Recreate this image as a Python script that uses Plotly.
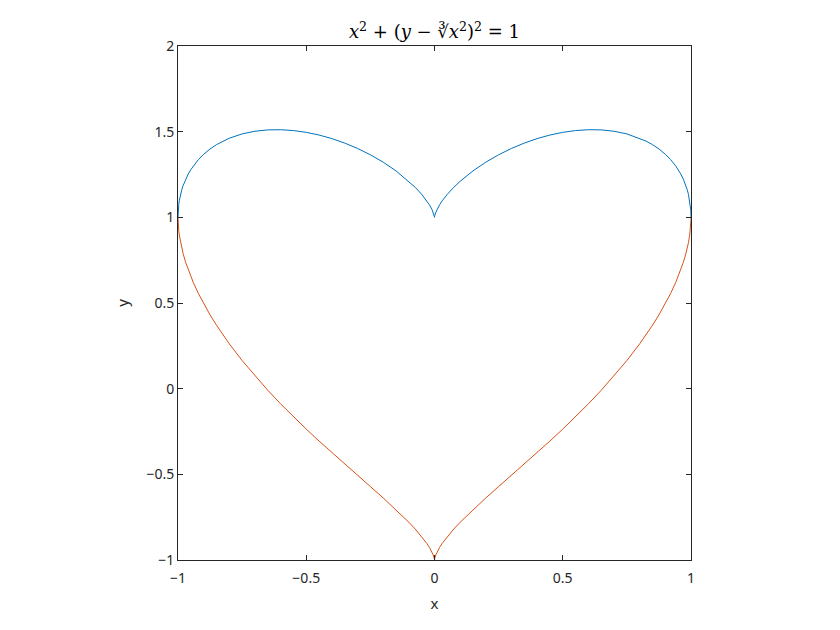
import plotly.graph_objects as go

x_vals = [-1, -0.9999, -0.9995, -0.999, -0.997, -0.995, -0.99, -0.985, -0.98, -0.97, -0.96, -0.95, -0.94,
          -0.92, -0.9, -0.875, -0.85, -0.825, -0.8, -0.75, -0.7, -0.65, -0.6, -0.55, -0.5, -0.45, -0.4,
          -0.35, -0.3, -0.25, -0.2, -0.15, -0.1, -0.075, -0.05, -0.03, -0.02, -0.01, -0.005, -0.001, -0.0002,
          0, 0.0002, 0.001, 0.005, 0.01, 0.02, 0.03, 0.05, 0.075, 0.1, 0.15, 0.2, 0.25, 0.3, 0.35, 0.4,
          0.45, 0.5, 0.55, 0.6, 0.65, 0.7, 0.75, 0.8, 0.825, 0.85, 0.875, 0.9, 0.92, 0.94, 0.95, 0.96,
          0.97, 0.98, 0.985, 0.99, 0.995, 0.997, 0.999, 0.9995, 0.9999, 1]

upper_vals = [1, 1.0141, 1.0313, 1.0440, 1.0754, 1.0965, 1.1344, 1.1625, 1.1856, 1.2230, 1.2532, 1.2786,
              1.3008, 1.3379, 1.3681, 1.3990, 1.4241, 1.4448, 1.4618, 1.4869, 1.5025, 1.5103, 1.5114, 1.5065,
              1.4960, 1.4803, 1.4594, 1.4334, 1.4021, 1.3651, 1.3218, 1.2710, 1.2104, 1.1750, 1.1345, 1.0961,
              1.0735, 1.0464, 1.0292, 1.01, 1.0034,
              1, 1.0034, 1.01, 1.0292, 1.0464, 1.0735, 1.0961, 1.1345, 1.1750, 1.2104, 1.2710, 1.3218, 1.3651,
              1.4021, 1.4334, 1.4594, 1.4803, 1.4960, 1.5065, 1.5114, 1.5103, 1.5025, 1.4869, 1.4618, 1.4448,
              1.4241, 1.3990, 1.3681, 1.3379, 1.3008, 1.2786, 1.2532, 1.2230, 1.1856, 1.1625, 1.1344, 1.0965,
              1.0754, 1.0440, 1.0313, 1.0141, 1]

lower_vals = [1, 0.9858, 0.9680, 0.9546, 0.9206, 0.8968, 0.8523, 0.8174, 0.7876, 0.7368, 0.6932, 0.6541,
              0.6184, 0.5540, 0.4963, 0.4307, 0.3705, 0.3145, 0.2618, 0.1640, 0.0742, -0.0096, -0.0886, -0.1639,
              -0.2361, -0.3058, -0.3736, -0.4401, -0.5058, -0.5714, -0.6378, -0.7064, -0.7796, -0.8194, -0.8630,
              -0.9030, -0.9261, -0.9535, -0.9708, -0.99, -0.9966,
              -1, -0.9966, -0.99, -0.9708, -0.9535, -0.9261, -0.9030, -0.8630, -0.8194, -0.7796, -0.7064,
              -0.6378, -0.5714, -0.5058, -0.4401, -0.3736, -0.3058, -0.2361, -0.1639, -0.0886, -0.0096, 0.0742,
              0.1640, 0.2618, 0.3145, 0.3705, 0.4307, 0.4963, 0.5540, 0.6184, 0.6541, 0.6932, 0.7368, 0.7876,
              0.8174, 0.8523, 0.8968, 0.9206, 0.9546, 0.9680, 0.9858, 1]

x_ticks = [-1, -0.5, 0, 0.5, 1]
y_ticks = [-1, -0.5, 0, 0.5, 1, 1.5, 2]

fig = go.Figure()
fig.add_trace(go.Scatter(x=x_vals, y=upper_vals, mode="lines",
                         line=dict(color="#0072BD", width=1), showlegend=False))
fig.add_trace(go.Scatter(x=x_vals, y=lower_vals, mode="lines",
                         line=dict(color="#D95319", width=1), showlegend=False))

tick_font = dict(family="Noto Sans, Liberation Sans, Arial", size=14, color="#262626")
axis_common = dict(showgrid=False, zeroline=False, showline=True, linecolor="#262626", linewidth=1,
                   mirror="ticks", ticks="inside", ticklen=5, tickcolor="#262626", tickfont=tick_font)

fig.update_layout(
    width=840, height=630,
    margin=dict(l=170, r=157, t=38, b=78),
    paper_bgcolor="white", plot_bgcolor="white",
    title=dict(text="<i>x</i><sup>2</sup> + (<i>y</i> − ∛<i>x</i><sup>2</sup>)<sup>2</sup> = 1",
               x=0.5, xref="paper", y=0.962, yanchor="middle", xanchor="center",
               font=dict(family="DejaVu Serif, Liberation Serif, serif", size=18, color="black")),
    xaxis=dict(range=[-1, 1], tickvals=x_ticks, ticklabelstandoff=5,
               title=dict(text="x", standoff=12,
                          font=dict(family="Noto Sans, Liberation Sans, Arial", size=15, color="#262626")),
               **axis_common),
    yaxis=dict(range=[-1, 2], tickvals=y_ticks,
               title=dict(text="y", standoff=14,
                          font=dict(family="Noto Sans, Liberation Sans, Arial", size=15, color="#262626")),
               **axis_common),
)

fig.write_html("out.html")
